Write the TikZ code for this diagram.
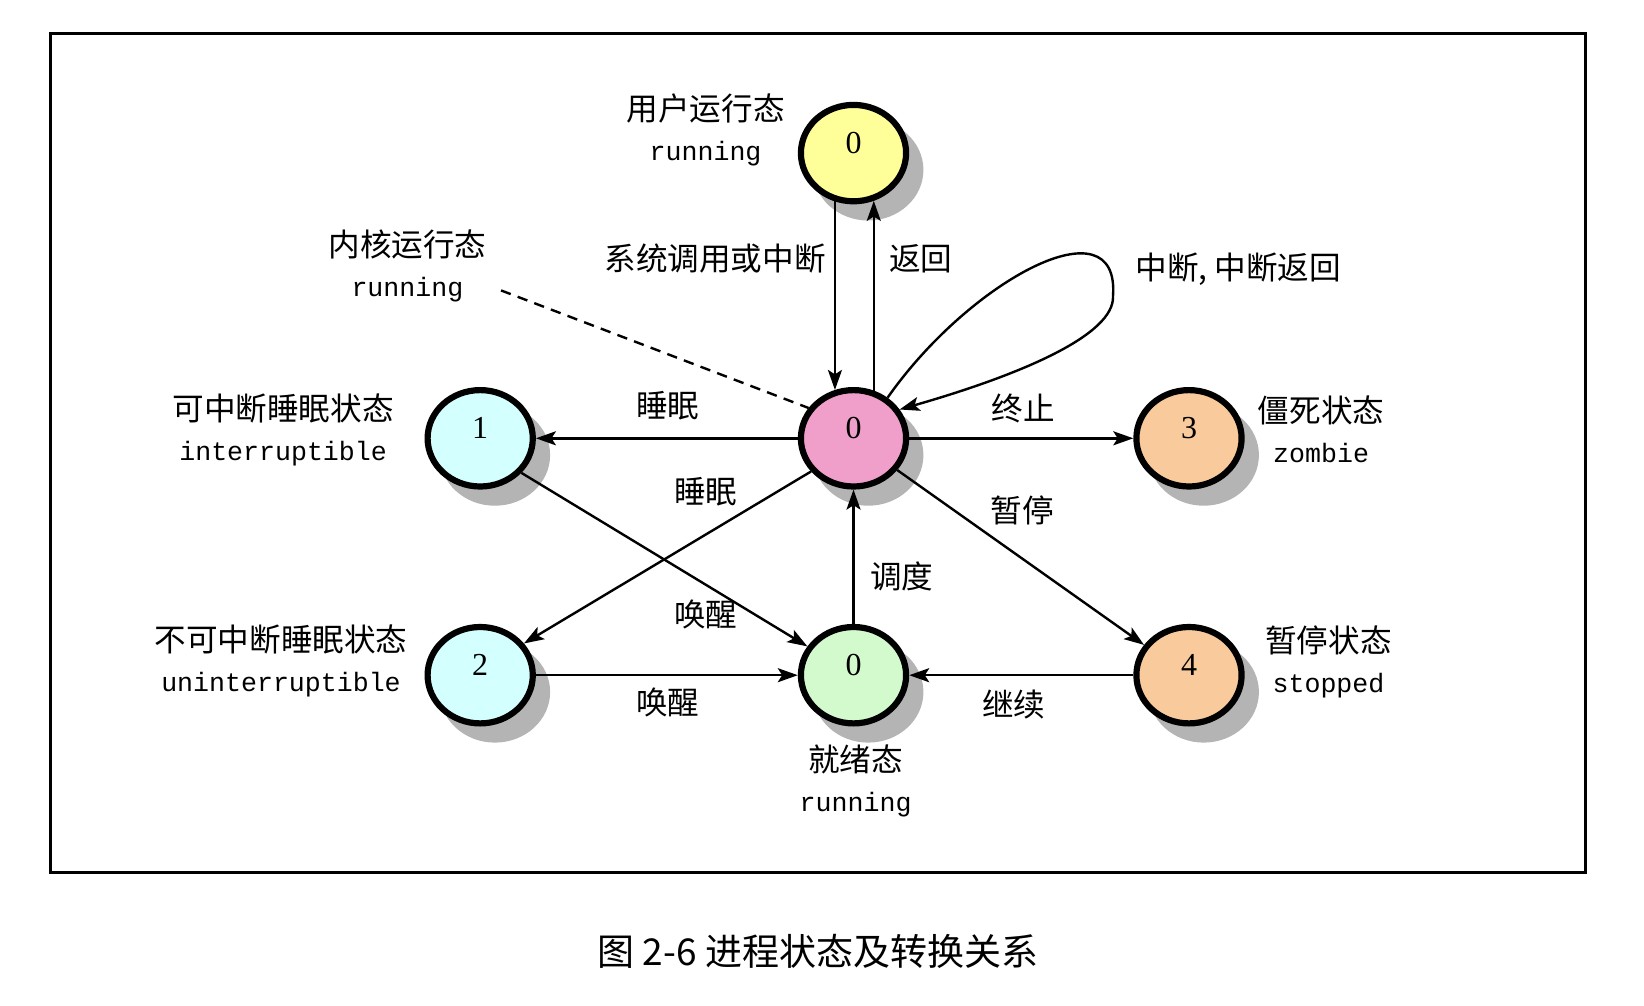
\documentclass[tikz,border=0pt]{standalone}
\usepackage{fontspec}
\setmainfont{Liberation Serif}
\newfontfamily\cjk{Noto Sans CJK SC}
\newfontfamily\monof{Liberation Mono}
\usepackage{tikz}
\usetikzlibrary{arrows.meta,shapes.geometric,shadows}
\definecolor{runyellow}{HTML}{FFFF99}
\definecolor{kernpink}{HTML}{EF9FC9}
\definecolor{sleepcyan}{HTML}{D4FFFF}
\definecolor{readygreen}{HTML}{D2FACC}
\definecolor{haltorange}{HTML}{F9CB9C}
\definecolor{shadowgray}{HTML}{B4B4B4}
\tikzset{
  >={Stealth[length=10pt,width=7pt,inset=2.2pt]},
  line/.style={draw=black, ->, line width=1.2pt},
  dashedline/.style={draw=black, line width=1.2pt, dash pattern=on 5.2pt off 3.7pt},
  frame/.style={draw=black, line width=1.7pt},
  state/.style={
    ellipse,
    draw=black,
    line width=3.1pt,
    minimum width=52.6pt,
    minimum height=48.2pt,
    inner sep=0pt,
    text height=11pt,
    text depth=10.7pt,
    font=\fontsize{16pt}{18pt}\selectfont,
    drop shadow={shadow xshift=7pt, shadow yshift=-8pt, shadow scale=1.05,
      fill=shadowgray, opacity=1}
  },
  tag/.style={align=center, font=\cjk\fontsize{15.8pt}{20pt}\selectfont},
  edgetag/.style={font=\cjk\fontsize{15.8pt}{18pt}\selectfont}
}
\newcommand{\eng}[1]{{\monof\fontsize{13.3pt}{20pt}\selectfont #1}}

\begin{document}
\begin{tikzpicture}[x=0.5pt,y=-0.5pt]
  \path[use as bounding box] (0,0) rectangle (1644,1006);
  \draw[frame] (50.3,33.6) rectangle (1585.3,872.3);

  % states
  \node[state, fill=runyellow] (user) at (853.5,153.1) {0};
  \node[state, fill=kernpink] (kern) at (853.5,438.3) {0};
  \node[state, fill=sleepcyan] (intr) at (480.2,438.3) {1};
  \node[state, fill=haltorange] (zomb) at (1189,438.3) {3};
  \node[state, fill=sleepcyan] (unintr) at (480.2,675.2) {2};
  \node[state, fill=readygreen] (ready) at (853.5,675.2) {0};
  \node[state, fill=haltorange] (stop) at (1189,675.2) {4};

  % state names
  \node[tag] (usertag) at (705.6,130) {用户运行态\\\eng{running}};
  \node[tag] (kerntag) at (407.4,266.3) {内核运行态\\\eng{running}};
  \node[tag] (intrtag) at (283.1,429.9) {可中断睡眠状态\\\eng{interruptible}};
  \node[tag] (unintrtag) at (281,661.1) {不可中断睡眠状态\\\eng{uninterruptible}};
  \node[tag] (zombtag) at (1321.1,429.4) {僵死状态\\\eng{zombie}};
  \node[tag] (stoptag) at (1328.5,662.1) {暂停状态\\\eng{stopped}};
  \node[tag] (readytag) at (855.6,780.6) {就绪态\\\eng{running}};

  % transition names
  \node[edgetag] (callint) at (715.1,259) {系统调用或中断};
  \node[edgetag] (ret) at (920.6,259) {返回};
  \node[edgetag] (intret) at (1238.3,269.5) {中断, 中断返回};
  \node[edgetag] (sleepa) at (667.9,405.8) {睡眠};
  \node[edgetag] (term) at (1023.3,408.9) {终止};
  \node[edgetag] (sleepb) at (705.6,491.7) {睡眠};
  \node[edgetag] (pause) at (1022.3,510.6) {暂停};
  \node[edgetag] (sched) at (901.7,576.7) {调度};
  \node[edgetag] (wakea) at (705.6,614.4) {唤醒};
  \node[edgetag] (wakeb) at (667.9,702.5) {唤醒};
  \node[edgetag] (cont) at (1013.9,704.6) {继续};

  \node[font=\cjk\fontsize{18.5pt}{20pt}\selectfont] (caption) at (817.8,951)
    {图 2-6 进程状态及转换关系};

  % transitions
  \coordinate (kernend) at (501,290.4);
  \draw[line] (user.249) -- (kern.111);
  \draw[line] (kern.67) -- (user.293);
  \draw[line] (kern) -- (intr);
  \draw[line] (kern) -- (zomb);
  \draw[line] (intr.-40) -- (ready.148);
  \draw[line] (kern.218) -- (unintr.36);
  \draw[line] (kern.-36) -- (stop.146);
  \draw[line] (unintr) -- (ready);
  \draw[line] (stop) -- (ready);
  \draw[line] (ready) -- (kern);
  \draw[line] (kern.50) .. controls (970,280) and (1120,200) .. (1113,296)
    .. controls (1115,335) and (1020,375) .. (kern.32);
  \draw[dashedline] (kernend) -- (kern.146);
\end{tikzpicture}
\end{document}
